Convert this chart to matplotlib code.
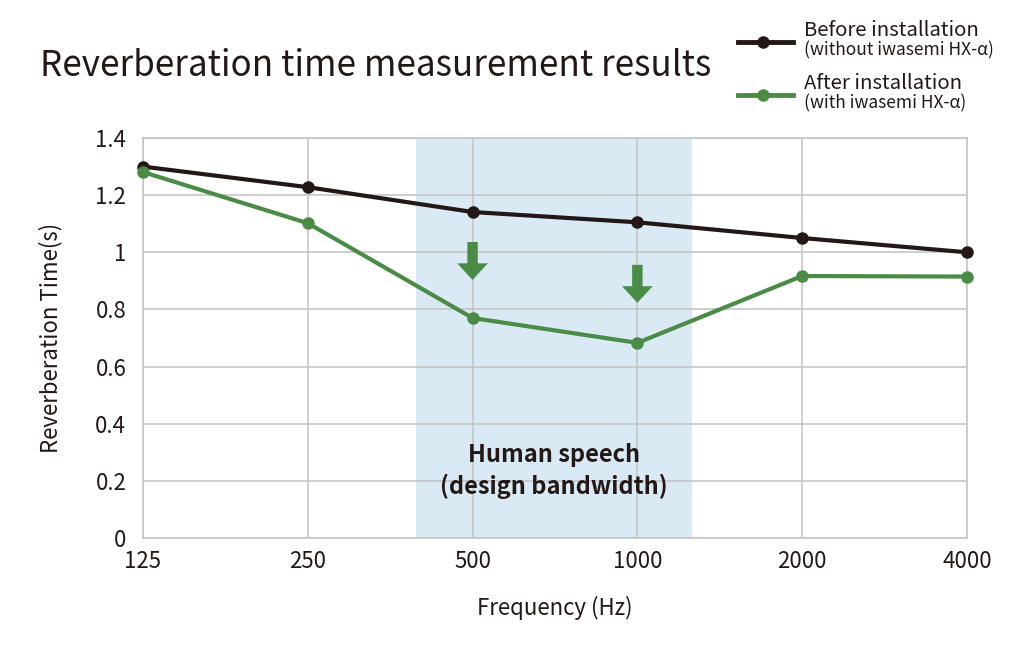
import matplotlib
matplotlib.use('Agg')
import matplotlib.pyplot as plt
from matplotlib.lines import Line2D

plt.rcParams['font.family'] = ['Noto Sans CJK JP', 'DejaVu Sans']

# datos
frecuencias = ['125', '250', '500', '1000', '2000', '4000']
antes = [1.30, 1.228, 1.141, 1.105, 1.05, 1.0]
despues = [1.281, 1.102, 0.77, 0.683, 0.917, 0.915]
y_ticks = [0, 0.2, 0.4, 0.6, 0.8, 1, 1.2, 1.4]
y_tick_labels = ['0', '0.2', '0.4', '0.6', '0.8', '1', '1.2', '1.4']
banda = (1.657, 3.33)  # zona de la voz humana, en posiciones de categoria
flechas = [(2, 1.036, 0.903), (3, 0.956, 0.823)]  # (x, inicio, punta)

negro = '#231815'
verde = '#4a8b45'
gris = '#c6c6c6'

fig = plt.figure(figsize=(10.24, 6.48), dpi=100)
ax = fig.add_axes([0.1396, 0.1698, 0.8047, 0.6172])

x = list(range(len(frecuencias)))
ax.axvspan(banda[0], banda[1], color='#d9eaf5', zorder=0, lw=0)
ax.grid(True, color=gris, lw=1.2, zorder=1)
ax.set_axisbelow(True)

ax.plot(x, antes, color=negro, lw=3, marker='o', ms=8, zorder=3, clip_on=False)
ax.plot(x, despues, color=verde, lw=3, marker='o', ms=8, zorder=4, clip_on=False)

for xf, y0, y1 in flechas:
    ax.annotate('', xy=(xf, y1), xytext=(xf, y0),
                arrowprops=dict(arrowstyle='simple,head_width=2.2,head_length=1.2,tail_width=0.75',
                                color=verde, lw=0, shrinkA=0, shrinkB=0), zorder=5)

ax.text((banda[0] + banda[1]) / 2, 0.235, 'Human speech\n(design bandwidth)',
        ha='center', va='center', fontsize=17, fontweight='bold', color=negro,
        linespacing=1.3, zorder=5)

ax.set_xlim(0, len(frecuencias) - 1)
ax.set_ylim(0, 1.4)
ax.set_xticks(x)
ax.set_xticklabels(frecuencias)
ax.set_yticks(y_ticks)
ax.set_yticklabels(y_tick_labels)
ax.tick_params(length=0, labelsize=16, colors=negro)
ax.tick_params(axis='y', pad=12)
ax.tick_params(axis='x', pad=9)
for s in ax.spines.values():
    s.set_color(gris)
    s.set_linewidth(1.2)

ax.set_xlabel('Frequency (Hz)', fontsize=16, color=negro, labelpad=16)
ax.set_ylabel('Reverberation Time(s)', fontsize=16, color=negro, labelpad=24)

fig.text(0.039, 0.898, 'Reverberation time measurement results', fontsize=25.2,
         color=negro, ha='left', va='center')

# leyenda manual
for yl, col, t1, t2 in [(0.935, negro, 'Before installation', '(without iwasemi HX-α)'),
                        (0.853, verde, 'After installation', '(with iwasemi HX-α)')]:
    fig.add_artist(Line2D([0.721, 0.774], [yl, yl], color=col, lw=3.5,
                          transform=fig.transFigure))
    fig.add_artist(Line2D([0.745], [yl], color=col, marker='o', ms=8,
                          transform=fig.transFigure))
    fig.text(0.785, yl + 0.018, t1, fontsize=14.7, color=negro, ha='left', va='center')
    fig.text(0.785, yl - 0.012, t2, fontsize=12.5, color=negro, ha='left', va='center')

fig.savefig('out.png', dpi=100, facecolor='white')
